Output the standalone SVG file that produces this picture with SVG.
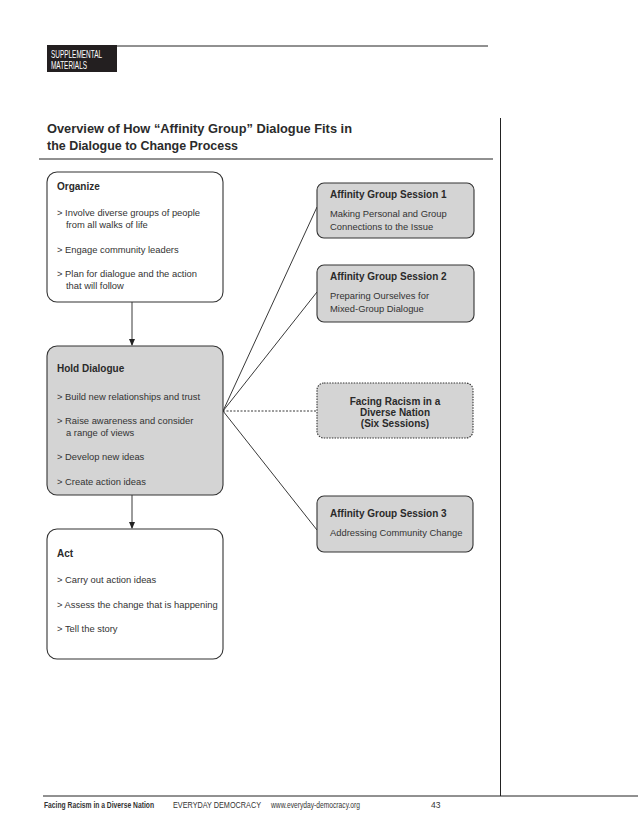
<svg xmlns="http://www.w3.org/2000/svg" width="638" height="826" viewBox="0 0 638 826">
  <defs>
    <marker id="arrow" viewBox="0 0 8 8" refX="7" refY="4" markerWidth="7" markerHeight="7" markerUnits="userSpaceOnUse" orient="auto">
      <path d="M0,0.5 L8,4 L0,7.5 Z" fill="#222"/>
    </marker>
  </defs>
  <style>
    text { font-family: "Liberation Sans", Arial, sans-serif; fill: #333; }
    .body { font-size: 9.4px; }
    .head { font-size: 10px; font-weight: bold; fill: #2a2a2a; }
    .box { stroke: #333; stroke-width: 1.1; }
    .white { fill: #ffffff; }
    .grey { fill: #d4d4d4; }
    .rule { stroke: #222; stroke-width: 1; fill: none; }
    .conn { stroke: #222; stroke-width: 0.9; fill: none; }
    .foot { font-size: 8.5px; }
  </style>
  <rect width="638" height="826" fill="#ffffff"/>

  <!-- page frame -->
  <g id="page">
    <rect x="47" y="45" width="70" height="27" fill="#231f20"/>
    <text x="51" y="58" font-size="10.5" textLength="51" lengthAdjust="spacingAndGlyphs" style="fill:#ffffff">SUPPLEMENTAL</text>
    <text x="51" y="68.5" font-size="10.5" textLength="36" lengthAdjust="spacingAndGlyphs" style="fill:#ffffff">MATERIALS</text>
    <line class="rule" x1="117" y1="46" x2="488" y2="46"/>
    <text x="47" y="133" font-size="13.5" font-weight="bold" textLength="305" lengthAdjust="spacingAndGlyphs" style="fill:#2b2b2b">Overview of How “Affinity Group” Dialogue Fits in</text>
    <text x="47" y="150" font-size="13.5" font-weight="bold" textLength="191" lengthAdjust="spacingAndGlyphs" style="fill:#2b2b2b">the Dialogue to Change Process</text>
    <line class="rule" x1="39" y1="159" x2="493" y2="159"/>
    <line class="rule" x1="500.5" y1="118" x2="500.5" y2="796"/>
    <line class="rule" x1="43" y1="796" x2="638" y2="796"/>
    <text class="foot" x="44" y="808" font-weight="bold" textLength="110" lengthAdjust="spacingAndGlyphs">Facing Racism in a Diverse Nation</text>
    <text class="foot" x="173" y="808" textLength="88" lengthAdjust="spacingAndGlyphs">EVERYDAY DEMOCRACY</text>
    <text class="foot" x="271" y="808" textLength="89" lengthAdjust="spacingAndGlyphs">www.everyday-democracy.org</text>
    <text class="foot" x="431" y="808">43</text>
  </g>

  <!-- connectors -->
  <g id="connectors">
    <line class="conn" x1="132" y1="302" x2="132" y2="345" marker-end="url(#arrow)"/>
    <line class="conn" x1="132" y1="495" x2="132" y2="528" marker-end="url(#arrow)"/>
    <line class="conn" x1="223" y1="411" x2="317" y2="207"/>
    <line class="conn" x1="223" y1="411" x2="317" y2="292"/>
    <line class="conn" x1="223" y1="411" x2="317" y2="411" stroke-dasharray="2,1.5"/>
    <line class="conn" x1="223" y1="411" x2="317" y2="530"/>
  </g>

  <g id="organize">
    <rect class="box white" x="47" y="172" width="176" height="130" rx="10"/>
    <text class="head" x="57" y="190">Organize</text>
    <text class="body" x="57" y="216">&gt; Involve diverse groups of people</text>
    <text class="body" x="66" y="228">from all walks of life</text>
    <text class="body" x="57" y="253">&gt; Engage community leaders</text>
    <text class="body" x="57" y="277">&gt; Plan for dialogue and the action</text>
    <text class="body" x="66" y="289">that will follow</text>
  </g>

  <g id="hold-dialogue">
    <rect class="box grey" x="47" y="346" width="176" height="149" rx="10"/>
    <text class="head" x="57" y="372">Hold Dialogue</text>
    <text class="body" x="57" y="400">&gt; Build new relationships and trust</text>
    <text class="body" x="57" y="424">&gt; Raise awareness and consider</text>
    <text class="body" x="66" y="436">a range of views</text>
    <text class="body" x="57" y="460">&gt; Develop new ideas</text>
    <text class="body" x="57" y="485">&gt; Create action ideas</text>
  </g>

  <g id="act">
    <rect class="box white" x="47" y="529" width="176" height="130" rx="10"/>
    <text class="head" x="57" y="557">Act</text>
    <text class="body" x="57" y="583">&gt; Carry out action ideas</text>
    <text class="body" x="57" y="608">&gt; Assess the change that is happening</text>
    <text class="body" x="57" y="632">&gt; Tell the story</text>
  </g>

  <g id="session1">
    <rect class="box grey" x="317" y="183" width="157" height="55" rx="7"/>
    <text class="head" x="330" y="198">Affinity Group Session 1</text>
    <text class="body" x="330" y="217">Making Personal and Group</text>
    <text class="body" x="330" y="230">Connections to the Issue</text>
  </g>

  <g id="session2">
    <rect class="box grey" x="317" y="265" width="157" height="57" rx="7"/>
    <text class="head" x="330" y="280">Affinity Group Session 2</text>
    <text class="body" x="330" y="299">Preparing Ourselves for</text>
    <text class="body" x="330" y="312">Mixed-Group Dialogue</text>
  </g>

  <g id="facing-racism">
    <rect class="grey" x="317" y="383" width="156" height="55" rx="7" stroke="#333" stroke-width="1.1" stroke-dasharray="1.5,1.2"/>
    <text class="head" x="395" y="405" text-anchor="middle">Facing Racism in a</text>
    <text class="head" x="395" y="416" text-anchor="middle">Diverse Nation</text>
    <text class="head" x="395" y="427" text-anchor="middle">(Six Sessions)</text>
  </g>

  <g id="session3">
    <rect class="box grey" x="317" y="496" width="156" height="56" rx="7"/>
    <text class="head" x="330" y="517">Affinity Group Session 3</text>
    <text class="body" x="330" y="536">Addressing Community Change</text>
  </g>
</svg>
